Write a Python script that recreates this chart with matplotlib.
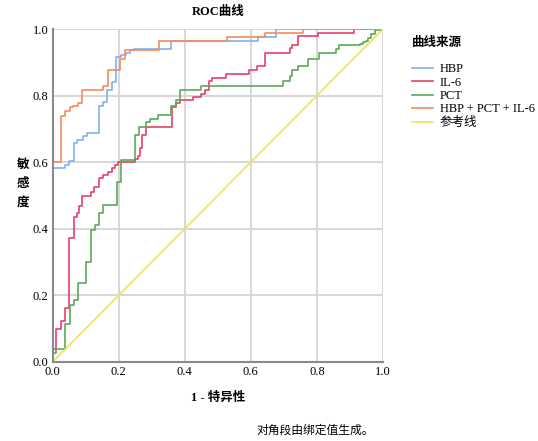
import matplotlib.pyplot as plt

plt.rcParams['font.family'] = ['Liberation Serif', 'Noto Sans CJK SC']

# ROC step points: (fpr where the jump happens, tpr after the jump)
fpr_hbp = [0, 0, 0.037, 0.049, 0.065, 0.075, 0.091, 0.105, 0.142, 0.152, 0.165, 0.179,
           0.193, 0.207, 0.222, 0.236, 0.247, 0.36, 0.621, 0.676, 1.0]
tpr_hbp = [0, 0.582, 0.592, 0.605, 0.658, 0.666, 0.678, 0.688, 0.768, 0.781, 0.816, 0.841,
           0.915, 0.921, 0.929, 0.937, 0.941, 0.963, 0.976, 1.0, 1.0]

fpr_il6 = [0, 0, 0.01, 0.025, 0.037, 0.051, 0.066, 0.073, 0.081, 0.088, 0.117, 0.127, 0.142,
           0.152, 0.167, 0.179, 0.188, 0.198, 0.25, 0.258, 0.264, 0.272, 0.284, 0.361, 0.375,
           0.385, 0.425, 0.448, 0.46, 0.475, 0.483, 0.525, 0.594, 0.618, 0.643, 0.718, 0.726,
           0.744, 0.802, 0.913, 1.0]
tpr_il6 = [0, 0.039, 0.099, 0.124, 0.161, 0.372, 0.435, 0.447, 0.469, 0.497, 0.512, 0.527, 0.552,
           0.562, 0.572, 0.582, 0.592, 0.60, 0.61, 0.62, 0.643, 0.683, 0.706, 0.766, 0.778,
           0.788, 0.796, 0.806, 0.818, 0.843, 0.853, 0.866, 0.878, 0.89, 0.928, 0.943, 0.953,
           0.978, 0.988, 1.0, 1.0]

fpr_pct = [0, 0.003, 0.011, 0.038, 0.053, 0.066, 0.076, 0.101, 0.115, 0.128, 0.141, 0.153,
           0.196, 0.206, 0.25, 0.263, 0.284, 0.296, 0.319, 0.36, 0.373, 0.385, 0.45, 0.696,
           0.718, 0.726, 0.744, 0.772, 0.807, 0.857, 0.867, 0.93, 0.94, 0.948, 0.955, 0.963,
           0.976, 1.0]
tpr_pct = [0, 0.026, 0.038, 0.114, 0.171, 0.186, 0.237, 0.299, 0.397, 0.412, 0.447, 0.472,
           0.542, 0.608, 0.683, 0.706, 0.72, 0.73, 0.743, 0.768, 0.788, 0.818, 0.828, 0.843,
           0.86, 0.878, 0.888, 0.91, 0.928, 0.94, 0.953, 0.956, 0.96, 0.963, 0.973, 0.985,
           0.998, 1.0]

fpr_all = [0, 0, 0.027, 0.038, 0.053, 0.062, 0.077, 0.09, 0.153, 0.168, 0.204, 0.219, 0.322,
           0.527, 0.643, 0.759, 1.0]
tpr_all = [0, 0.60, 0.74, 0.755, 0.765, 0.77, 0.778, 0.816, 0.828, 0.878, 0.91, 0.938, 0.963,
           0.976, 0.988, 1.0, 1.0]

ref = [0, 1]

fig = plt.figure(figsize=(5.38, 4.41), dpi=100)
ax = fig.add_axes([52.5 / 538, 1 - 362 / 441, 330.5 / 538, 333 / 441])

ax.plot(fpr_hbp, tpr_hbp, drawstyle='steps-post', color='#7eb1ea', lw=1.2, label='HBP')
ax.plot(fpr_il6, tpr_il6, drawstyle='steps-post', color='#e6416a', lw=1.2, label='IL-6')
ax.plot(fpr_pct, tpr_pct, drawstyle='steps-post', color='#5ea85a', lw=1.2, label='PCT')
ax.plot(fpr_all, tpr_all, drawstyle='steps-post', color='#f58b5c', lw=1.2, label='HBP + PCT + IL-6')
ax.plot(ref, ref, color='#f2e15a', lw=1.2, label='参考线')

ax.set_xlim(0, 1)
ax.set_ylim(0, 1)
ticks = [0, 0.2, 0.4, 0.6, 0.8, 1.0]
ax.set_xticks(ticks)
ax.set_yticks(ticks)
ax.set_xticklabels(['0.0', '0.2', '0.4', '0.6', '0.8', '1.0'], fontsize=9)
ax.set_yticklabels(['0.0', '0.2', '0.4', '0.6', '0.8', '1.0'], fontsize=9)
ax.tick_params(length=0, pad=3)
ax.grid(True, color='#d4d4d4', lw=1.3)
ax.set_axisbelow(True)
for s in ['top', 'right']:
    ax.spines[s].set_visible(False)
for s in ['left', 'bottom']:
    ax.spines[s].set_color('#8a8a8a')
    ax.spines[s].set_linewidth(1.5)

fig.text(218 / 538, 1 - 12 / 441, 'ROC曲线', ha='center', va='center', fontsize=9, fontweight='bold')
fig.text(218 / 538, 1 - 398 / 441, '1 - 特异性', ha='center', va='center', fontsize=9, fontweight='bold')
fig.text(23 / 538, 1 - 184 / 441, '敏\n感\n度', ha='center', va='center', fontsize=9,
         fontweight='bold', linespacing=1.75)
fig.text(315 / 538, 1 - 431 / 441, '对角段由绑定值生成。', ha='center', va='center', fontsize=8.5)

fig.text(412 / 538, 1 - 43 / 441, '曲线来源', ha='left', va='center', fontsize=9, fontweight='bold')
fig.legend(loc='upper left', bbox_to_anchor=(407 / 538, 1 - 58 / 441), frameon=False,
           fontsize=9, handlelength=1.7, handletextpad=0.5,
           labelspacing=0.12, borderaxespad=0)

fig.savefig('out.png', dpi=100)
